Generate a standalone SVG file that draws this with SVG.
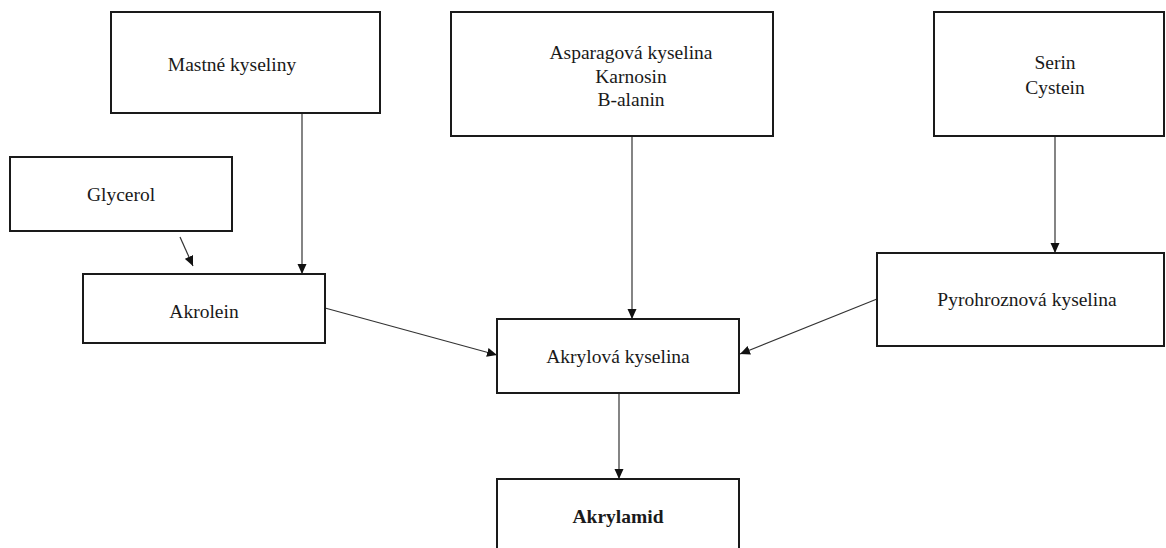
<svg xmlns="http://www.w3.org/2000/svg" width="1166" height="548" viewBox="0 0 1166 548">
<style>
.box{fill:#fff;stroke:#1a1a1a;stroke-width:2}
.t{font-family:'Liberation Serif','Times New Roman',serif;font-size:19.5px;fill:#1a1a1a;text-anchor:middle}
.b{font-weight:bold}
.c{stroke:#333;stroke-width:1.2;fill:none;marker-end:url(#ah)}
</style>
<defs>
<marker id="ah" viewBox="0 0 10 10" refX="10" refY="5" markerWidth="10" markerHeight="10" markerUnits="userSpaceOnUse" orient="auto">
<path d="M0,0.5 L10,5 L0,9.5 Z" fill="#111"/>
</marker>
</defs>
<rect width="1166" height="548" fill="#fff"/>
<g id="connectors">
<line class="c" x1="302" y1="113" x2="302" y2="274"/>
<line class="c" x1="180" y1="237" x2="193" y2="266"/>
<line class="c" x1="632" y1="136" x2="632" y2="319"/>
<line class="c" x1="1055" y1="136" x2="1055" y2="253"/>
<line class="c" x1="325" y1="308" x2="497" y2="355"/>
<line class="c" x1="877" y1="299" x2="740" y2="354"/>
<line class="c" x1="619" y1="393" x2="619" y2="479"/>
</g>
<g id="mastne">
<rect class="box" x="111" y="12" width="269" height="101"/>
<text class="t" x="232" y="71">Mastné kyseliny</text>
</g>
<g id="glycerol">
<rect class="box" x="10" y="157" width="222" height="74"/>
<text class="t" x="121" y="201">Glycerol</text>
</g>
<g id="akrolein">
<rect class="box" x="83" y="274" width="242" height="69"/>
<text class="t" x="204" y="318">Akrolein</text>
</g>
<g id="asparagova">
<rect class="box" x="451" y="12" width="322" height="124"/>
<text class="t" x="631" y="59">Asparagová kyselina</text>
<text class="t" x="631" y="83">Karnosin</text>
<text class="t" x="631" y="106">B-alanin</text>
</g>
<g id="serin">
<rect class="box" x="934" y="12" width="230" height="124"/>
<text class="t" x="1055" y="69">Serin</text>
<text class="t" x="1055" y="94">Cystein</text>
</g>
<g id="pyrohroznova">
<rect class="box" x="877" y="253" width="287" height="93"/>
<text class="t" x="1027" y="306">Pyrohroznová kyselina</text>
</g>
<g id="akrylova">
<rect class="box" x="497" y="319" width="242" height="74"/>
<text class="t" x="618" y="363">Akrylová kyselina</text>
</g>
<g id="akrylamid">
<rect class="box" x="497" y="479" width="242" height="80"/>
<text class="t b" x="618" y="523">Akrylamid</text>
</g>
</svg>
